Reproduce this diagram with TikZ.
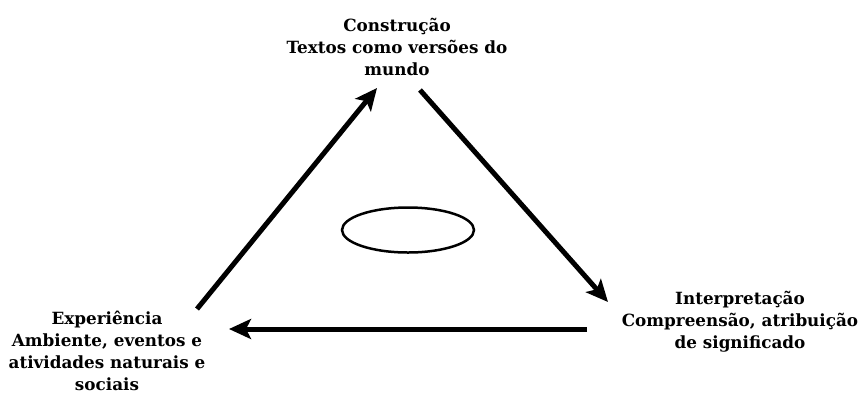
\documentclass[tikz,border=0pt]{standalone}
\usepackage{fontspec}
\setmainfont{DejaVu Serif}
\usetikzlibrary{arrows.meta, shapes.geometric}

\begin{document}
\begin{tikzpicture}[x=1pt, y=-1pt,
    rotulo/.style={align=center, inner sep=0pt, font=\fontsize{16.8}{22}\selectfont\bfseries},
    seta/.style={line width=5pt, -{Stealth[length=22pt, width=20pt, inset=5pt]}}]
    \useasboundingbox (0,0) rectangle (859,392);

    \node[rotulo] (con) at (397,47) {Construção\\Textos como versões do\\mundo};
    \node[rotulo] (int) at (740,322) {Interpretação\\Compreensão, atribuição\\de significado};
    \node[rotulo] (exp) at (107,351) {Experiência\\Ambiente, eventos e\\atividades naturais e\\sociais};

    \coordinate (e1) at (197,309);
    \coordinate (c1) at (377,88);
    \coordinate (c2) at (420,90);
    \coordinate (i1) at (608,302);
    \coordinate (i2) at (587,329);
    \coordinate (e2) at (229,329);

    \draw[seta] (e1) -- (c1);
    \draw[seta] (c2) -- (i1);
    \draw[seta] (i2) -- (e2);

    \node[draw, ellipse, line width=2.5pt, minimum width=132pt, minimum height=45pt] (ciclo) at (408,230) {};
  \end{tikzpicture}
\end{document}
